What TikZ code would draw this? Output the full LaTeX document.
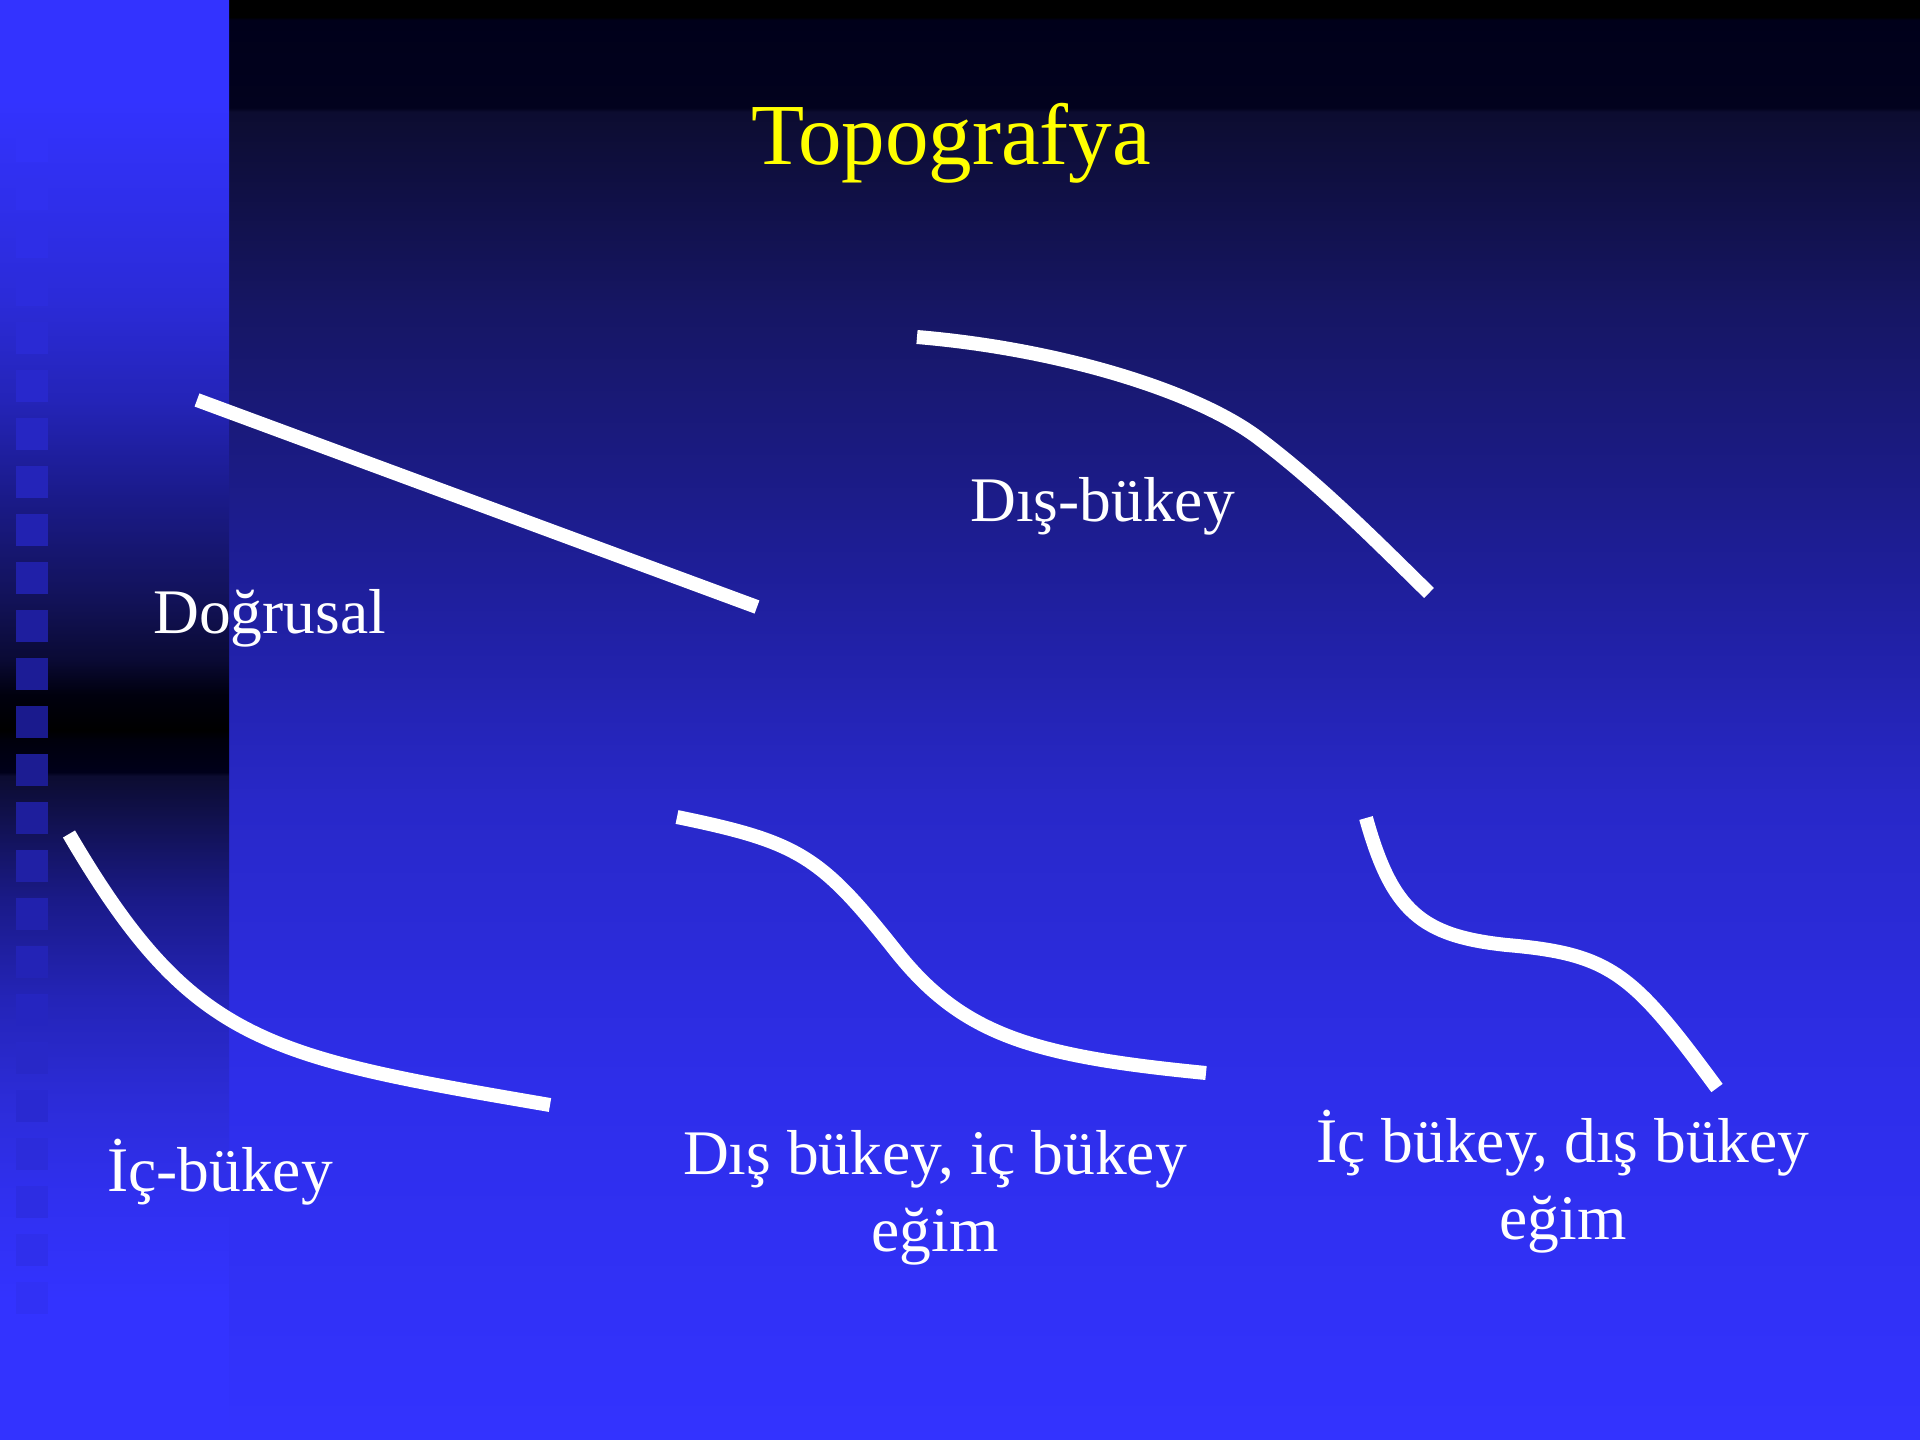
\documentclass[tikz,border=0pt]{standalone}
\usepackage{fontspec}
\setmainfont{Liberation Serif}
\definecolor{bA}{HTML}{000000}
\definecolor{bB}{HTML}{00001A}
\definecolor{bC}{HTML}{02021E}
\definecolor{bD}{HTML}{0C0C30}
\definecolor{bE}{HTML}{161664}
\definecolor{bF}{HTML}{1F1F9E}
\definecolor{bG}{HTML}{2828C8}
\definecolor{bH}{HTML}{2E2EEA}
\definecolor{bI}{HTML}{3333FF}
\definecolor{sB}{HTML}{2B2BD8}
\definecolor{sC}{HTML}{2424B8}
\definecolor{sD}{HTML}{1A1A88}
\definecolor{sE}{HTML}{121258}
\definecolor{sF}{HTML}{0A0A34}
\definecolor{sG}{HTML}{00000E}
\definecolor{sH}{HTML}{00000C}
\definecolor{sI}{HTML}{2C2CD8}
\definecolor{sJ}{HTML}{3030F0}
\definecolor{sqlight}{HTML}{3232F8}
\definecolor{sqdark}{HTML}{1A1A8C}
\definecolor{titleyellow}{HTML}{FFFF00}
\pgfdeclareverticalshading{mainbg}{100bp}{%
color(0bp)=(bI); color(25bp)=(bI); color(37.15bp)=(bH); color(47.22bp)=(bG);
color(54.17bp)=(bF); color(64.24bp)=(bE); color(71.11bp)=(bD); color(71.25bp)=(bC);
color(74.31bp)=(bB); color(74.4bp)=(bA); color(75bp)=(bA); color(100bp)=(bA)}
\pgfdeclareverticalshading{stripbg}{100bp}{%
color(0bp)=(bI); color(25bp)=(bI); color(29.86bp)=(bI); color(33.33bp)=(sJ);
color(36.81bp)=(sI); color(40.28bp)=(sC); color(43.75bp)=(sD); color(48.06bp)=(bD);
color(48.19bp)=(bB); color(49.31bp)=(sH); color(49.65bp)=(bA); color(50.87bp)=(sG);
color(52.08bp)=(sF); color(54.17bp)=(sE); color(57.64bp)=(sD); color(61.11bp)=(sC);
color(64.58bp)=(sB); color(71.53bp)=(bI); color(75bp)=(bI); color(100bp)=(bI)}
\begin{document}
\begin{tikzpicture}[x=1pt,y=-1pt,
  curve/.style={draw=white, line width=14pt},
  label/.style={text=white, inner sep=0pt, font=\fontsize{63.5}{77}\selectfont},
  title/.style={text=titleyellow, inner sep=0pt, font=\fontsize{87}{100}\selectfont}]
\useasboundingbox (0,0) rectangle (1920,1440);
% background
\shade[shading=mainbg] (229,0) rectangle (1920,1440);
\shade[shading=stripbg] (0,0) rectangle (229,1440);
\foreach \k in {0,...,24}{
  \pgfmathsetmacro\yy{130+48*\k}
  \pgfmathtruncatemacro\tt{min(100,abs(\yy+16-730)/5.8)}
  \colorlet{sqc}{sqlight!\tt!sqdark}
  \fill[sqc] (16,\yy) rectangle (48,\yy+32);
}
% title
\node[title, anchor=base] (title) at (951,164) {Topografya};
% shapes
\draw[curve] (197,400) -- (757,607);
\draw[curve] (917,337) .. controls (1060,349) and (1195,391) .. (1257,437)
                       .. controls (1317,482) and (1370,535) .. (1429,593);
\draw[curve] (69,834) .. controls (192,1044) and (264,1056) .. (550,1105);
\draw[curve] (677,817) .. controls (798.5,842) and (820,855.5) .. (895,950)
                       .. controls (962,1035) and (1032,1056) .. (1206,1073);
\draw[curve] (1366,818) .. controls (1392,911) and (1421,936) .. (1507,945)
                        .. controls (1612,954) and (1633,974) .. (1717,1088);
% labels
\node[label, anchor=base west] (lin) at (153,633) {Doğrusal};
\node[label, anchor=base west] (convex) at (970,521) {Dış-bükey};
\node[label, anchor=base west] (concave) at (107,1191) {İç-bükey};
\node[label, anchor=base, align=center] (convconc) at (935,1251) {Dış bükey, iç bükey\\eğim};
\node[label, anchor=base, align=center] (concconv) at (1563,1239) {İç bükey, dış bükey\\eğim};
\end{tikzpicture}
\end{document}
